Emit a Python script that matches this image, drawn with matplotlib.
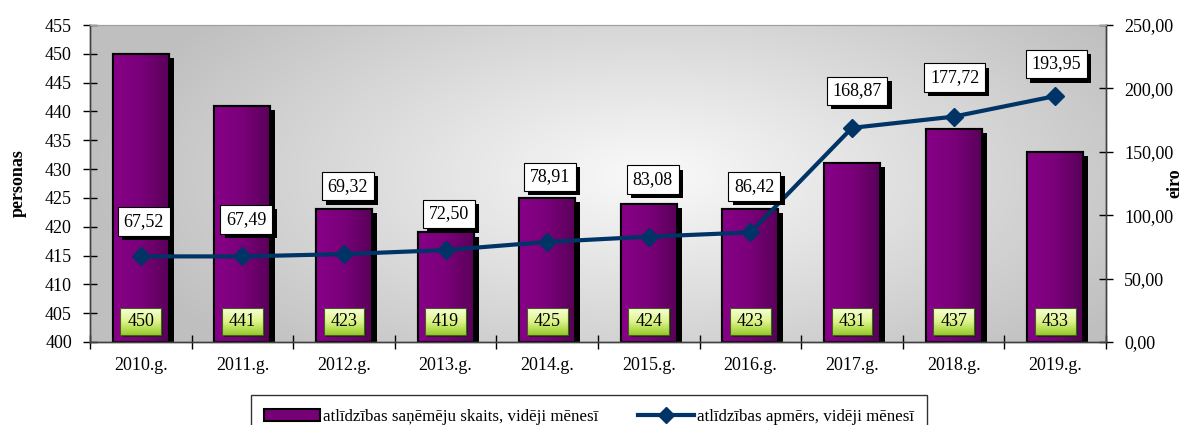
import numpy as np
import matplotlib
matplotlib.use('Agg')
import matplotlib.pyplot as plt
from matplotlib.ticker import FuncFormatter
from matplotlib.patches import Rectangle, Patch
from matplotlib.lines import Line2D
from matplotlib.colors import LinearSegmentedColormap
import matplotlib.patheffects as pe

# ---- data ----
years = ['2010.g.', '2011.g.', '2012.g.', '2013.g.', '2014.g.',
         '2015.g.', '2016.g.', '2017.g.', '2018.g.', '2019.g.']
recipients = [450, 441, 423, 419, 425, 424, 423, 431, 437, 433]
amounts = [67.52, 67.49, 69.32, 72.50, 78.91, 83.08, 86.42, 168.87, 177.72, 193.95]
bar_label = 'atlīdzības saņēmēju skaits, vidēji mēnesī'
line_label = 'atlīdzības apmērs, vidēji mēnesī'
left_title = 'personas'
right_title = 'eiro'

# label placement (pixels offset from the point), layout only
label_offsets_px = [(3, 35), (4, 37), (4, 68), (3, 36), (3, 65),
                    (4, 57), (4, 46), (5, 37), (1, 39), (1, 32)]

plt.rcParams['font.family'] = ['Liberation Serif', 'DejaVu Serif']

W, H = 1193, 425
fig = plt.figure(figsize=(W / 100, H / 100), dpi=100)
fig.patch.set_facecolor('white')
L, R, T, B = 90, 1106, 25, 342
ax = fig.add_axes([L / W, (H - B) / H, (R - L) / W, (B - T) / H])

# ---- background radial gradient ----
pw, ph = R - L, B - T
xx, yy = np.meshgrid(np.arange(pw), np.arange(ph))
cx, cy, rx, ry = 560, 150, 560, 250
r = np.sqrt(((xx - cx) / rx) ** 2 + ((yy - cy) / ry) ** 2)
r = np.clip(r, 0, 1)
light, dark = 0.98, 0.75
val = light - (light - dark) * r ** 1.0
bg = np.dstack([val, val, val])
ax.imshow(bg, extent=[0, 1, 0, 1], transform=ax.transAxes, aspect='auto',
          zorder=0, interpolation='bilinear')

x = np.arange(len(years))
base = 400
bw = 0.55

# ---- bars with shadow and horizontal gradient ----
bars = ax.bar(x, np.array(recipients) - base, bottom=base, width=bw,
              color='#760076', edgecolor='black', linewidth=1.5, zorder=2)
for b in bars:
    b.set_path_effects([pe.SimplePatchShadow(offset=(3.6, -2.9),
                                             shadow_rgbFace='black', alpha=1.0),
                        pe.Normal()])
purple = LinearSegmentedColormap.from_list('pp', ['#880088', '#7a007a', '#5a005a'])
grad = np.linspace(0, 1, 64).reshape(1, -1)
for b in bars:
    x0, y0 = b.get_x(), b.get_y()
    im = ax.imshow(grad, extent=[x0, x0 + b.get_width(), y0, y0 + b.get_height()],
                   aspect='auto', cmap=purple, zorder=2.1, interpolation='bilinear')
    im.set_clip_path(b)
ax.bar(x, np.array(recipients) - base, bottom=base, width=bw, fill=False,
       edgecolor='black', linewidth=1.5, zorder=2.2)

# ---- green value boxes at the bottom of bars ----
green = LinearSegmentedColormap.from_list('gg', ['#f8ffd8', '#dcf48a', '#96cc28'])
ggrad = np.linspace(0, 1, 64).reshape(-1, 1)
bx_hw, by_c, by_hh = 0.2, 403.56, 2.34
for i, v in zip(x, recipients):
    ax.add_patch(Rectangle((i - bx_hw + 0.02, by_c - by_hh - 0.35), 2 * bx_hw, 2 * by_hh,
                           facecolor='#202020', edgecolor='none', zorder=2.9))
    ax.imshow(ggrad, extent=[i - bx_hw, i + bx_hw, by_c - by_hh, by_c + by_hh],
              aspect='auto', cmap=green, zorder=3, interpolation='bilinear')
    ax.add_patch(Rectangle((i - bx_hw, by_c - by_hh), 2 * bx_hw, 2 * by_hh,
                           facecolor='none', edgecolor='#4a5a20', lw=0.8, zorder=3.1))
    ax.text(i, by_c, str(v), ha='center', va='center', fontsize=13, zorder=3.2)

ax.set_xlim(-0.5, len(years) - 0.5)
ax.set_ylim(400, 455)
ax.set_yticks(np.arange(400, 456, 5))
ax.set_xticks(np.arange(-0.5, len(years), 1))
ax.set_xticklabels([])
ax.set_xticks(x, minor=True)
ax.set_xticklabels(years, minor=True)
ax.tick_params(axis='x', which='major', direction='inout', length=10, width=1)
ax.tick_params(axis='x', which='minor', length=0, labelsize=13, pad=11)
ax.tick_params(axis='y', direction='inout', length=10, width=1, labelsize=13, pad=8)
ax.set_ylabel(left_title, fontsize=13, fontweight='bold', va='center')
ax.yaxis.set_label_coords(-0.071, 0.5)

# ---- line on secondary axis ----
ax2 = ax.twinx()
ax2.set_ylim(0, 250)
ax2.set_yticks(np.arange(0, 251, 50))
ax2.yaxis.set_major_formatter(FuncFormatter(lambda v, p: f'{v:.2f}'.replace('.', ',')))
ax2.tick_params(axis='y', direction='inout', length=10, width=1, labelsize=13, pad=8)
ax2.set_ylabel(right_title, fontsize=13, fontweight='bold', va='center', rotation=90)
ax2.yaxis.set_label_coords(1.068, 0.5)
ax2.plot(x, amounts, color='#003366', lw=3, marker='D', ms=9, zorder=5)

for i, (v, off) in enumerate(zip(amounts, label_offsets_px)):
    t = ax2.annotate(f'{v:.2f}'.replace('.', ','), (x[i], v), xytext=off,
                     textcoords='offset pixels', ha='center', va='center',
                     fontsize=13, zorder=6,
                     bbox=dict(boxstyle='square,pad=0.32', fc='white', ec='black', lw=0.8))
    t.get_bbox_patch().set_path_effects([
        pe.SimplePatchShadow(offset=(3, -3), shadow_rgbFace='black', alpha=1.0),
        pe.Normal()])

for a in (ax, ax2):
    for s in ('left', 'right', 'bottom'):
        a.spines[s].set_color('#404040')
        a.spines[s].set_linewidth(1)
    a.spines['top'].set_color('#a0a0a0')

# ---- legend ----
handles = [Patch(facecolor='#760076', edgecolor='black', linewidth=1.5),
           Line2D([], [], color='#003366', lw=3, marker='D', ms=8)]
leg = fig.legend(handles, [bar_label, line_label], loc='upper center',
                 bbox_to_anchor=(589 / W, 1 - 395 / H),
                 ncol=2, frameon=True,
                 fancybox=False, edgecolor='black', fontsize=12.2, borderpad=0.8,
                 handlelength=3.3, handletextpad=0.2, columnspacing=2.3,
                 borderaxespad=0)
leg.get_frame().set_linewidth(1)

fig.savefig('out.png', dpi=100)
